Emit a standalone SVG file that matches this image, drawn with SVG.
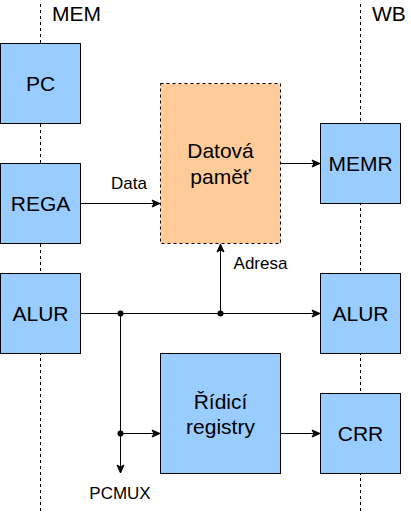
<svg xmlns="http://www.w3.org/2000/svg" width="411" height="515" viewBox="0 0 411 515">
<style>
.lane{stroke:#000;stroke-width:1;stroke-dasharray:3 3;fill:none}
.box{fill:#99CCFF;stroke:#000;stroke-width:1}
.mem{fill:#FFCC99;stroke:#000;stroke-width:1;stroke-dasharray:3 3}
.t{font-family:"Liberation Sans",Arial,sans-serif;font-size:21px;fill:#000;text-anchor:middle}
.h{font-family:"Liberation Sans",Arial,sans-serif;font-size:21px;fill:#000}
.l{font-family:"Liberation Sans",Arial,sans-serif;font-size:17px;fill:#000;text-anchor:middle}
.c{stroke:#000;stroke-width:1;fill:none}
</style>
<defs>
<marker id="arr" markerWidth="10" markerHeight="10" viewBox="0 0 10 10" refX="9" refY="5" orient="auto" markerUnits="userSpaceOnUse">
<path d="M1,1.5 L9,5 L1,8.5 L3,5 Z" fill="#000" stroke="#000" stroke-width="1"/>
</marker>
</defs>
<g id="lanes">
<line class="lane" x1="40.5" y1="4" x2="40.5" y2="513"/>
<line class="lane" x1="360.5" y1="4" x2="360.5" y2="513"/>
<text class="h" x="52" y="21">MEM</text>
<text class="h" x="372" y="21">WB</text>
</g>
<g id="connectors">
<line class="c" x1="80.5" y1="203.5" x2="160" y2="203.5" marker-end="url(#arr)"/>
<line class="c" x1="280.5" y1="163.5" x2="320" y2="163.5" marker-end="url(#arr)"/>
<line class="c" x1="80.5" y1="313.5" x2="320" y2="313.5" marker-end="url(#arr)"/>
<line class="c" x1="220.5" y1="313.5" x2="220.5" y2="244" marker-end="url(#arr)"/>
<line class="c" x1="120.5" y1="313.5" x2="120.5" y2="473" marker-end="url(#arr)"/>
<line class="c" x1="120.5" y1="433.5" x2="160" y2="433.5" marker-end="url(#arr)"/>
<line class="c" x1="280.5" y1="433.5" x2="320" y2="433.5" marker-end="url(#arr)"/>
<circle cx="120.5" cy="313.5" r="3" fill="#000"/>
<circle cx="220.5" cy="313.5" r="3" fill="#000"/>
<circle cx="120.5" cy="433.5" r="3" fill="#000"/>
<text class="l" x="129" y="189">Data</text>
<text class="l" x="260.5" y="269">Adresa</text>
<text class="l" x="120" y="499">PCMUX</text>
</g>
<g id="pc"><rect class="box" x="0.5" y="43.5" width="80" height="80"/><text class="t" x="40.5" y="91">PC</text></g>
<g id="rega"><rect class="box" x="0.5" y="163.5" width="80" height="80"/><text class="t" x="40.5" y="211">REGA</text></g>
<g id="alur-mem"><rect class="box" x="0.5" y="273.5" width="80" height="80"/><text class="t" x="40.5" y="321">ALUR</text></g>
<g id="datova-pamet"><rect class="mem" x="160.5" y="83.5" width="120" height="160"/><text class="t" x="220.5" y="157.5">Datová</text><text class="t" x="220.5" y="183.5">paměť</text></g>
<g id="ridici-registry"><rect class="box" x="160.5" y="353.5" width="120" height="120"/><text class="t" x="220.5" y="408.5">Řídicí</text><text class="t" x="220.5" y="433.5">registry</text></g>
<g id="memr"><rect class="box" x="320.5" y="123.5" width="80" height="80"/><text class="t" x="360.5" y="171">MEMR</text></g>
<g id="alur-wb"><rect class="box" x="320.5" y="273.5" width="80" height="80"/><text class="t" x="360.5" y="321">ALUR</text></g>
<g id="crr"><rect class="box" x="320.5" y="393.5" width="80" height="80"/><text class="t" x="360.5" y="441">CRR</text></g>
</svg>
